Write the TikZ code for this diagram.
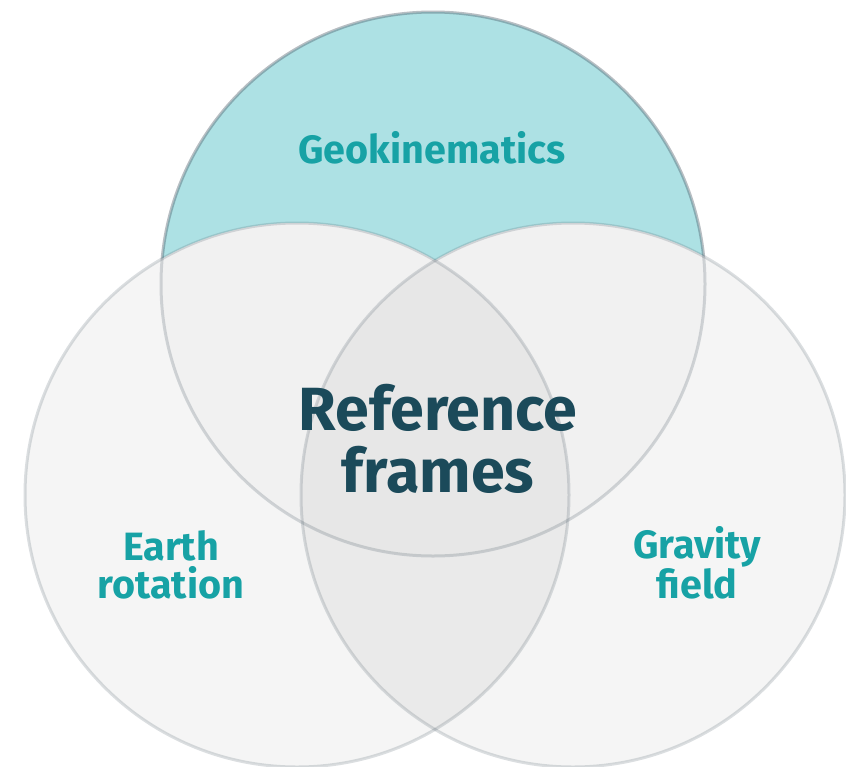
\documentclass[tikz,border=0pt]{standalone}
\usepackage{fontspec}
\setmainfont{Fira Sans}
\definecolor{tealfill}{HTML}{ADE1E4}
\definecolor{tealtext}{HTML}{17A2A5}
\definecolor{darktext}{HTML}{1B4A5A}
\definecolor{gOne}{HTML}{F5F5F5}
\definecolor{gTwo}{HTML}{F1F1F1}
\definecolor{gThree}{HTML}{EAEAEA}
\definecolor{gFour}{HTML}{E7E7E7}
\definecolor{edge}{HTML}{4A5A66}
\tikzset{
  ring/.style={draw=edge, line width=3pt, draw opacity=0.2},
  topring/.style={draw=edge, line width=3pt, draw opacity=0.22},
  lbl/.style={text=tealtext, font=\fontsize{39.5}{38}\selectfont\bfseries, align=center, anchor=base},
  mainlbl/.style={text=darktext, font=\fontsize{61}{62}\selectfont\bfseries, align=center, anchor=base}
}
\begin{document}
\begin{tikzpicture}[x=1pt,y=-1pt]
\useasboundingbox (0,0) rectangle (846,766);
\coordinate (T) at (433,284);
\coordinate (L) at (297,495);
\coordinate (R) at (573,495);
\def\rr{272}
% top circle
\fill[tealfill] (T) circle (\rr);
\draw[topring] (T) circle (\rr);
% lower circles
\fill[gOne] (L) circle (\rr);
\fill[gOne] (R) circle (\rr);
\begin{scope}
  \clip (T) circle (\rr);
  \fill[gTwo] (L) circle (\rr);
  \fill[gTwo] (R) circle (\rr);
\end{scope}
\begin{scope}
  \clip (L) circle (\rr);
  \fill[gThree] (R) circle (\rr);
\end{scope}
\begin{scope}
  \clip (L) circle (\rr);
  \clip (T) circle (\rr);
  \fill[gFour] (R) circle (\rr);
\end{scope}
% outlines
\draw[topring] (T) circle (\rr);
\draw[ring] (L) circle (\rr);
\draw[ring] (R) circle (\rr);
% labels
\node[lbl] (geo) at (432,163) {Geokinematics};
\node[lbl] (earth) at (171,598) {Earth\\rotation};
\node[lbl] (grav) at (697,598) {Gravity\\field};
\node[mainlbl] (ref) at (438,492) {Reference\\frames};
\end{tikzpicture}
\end{document}
